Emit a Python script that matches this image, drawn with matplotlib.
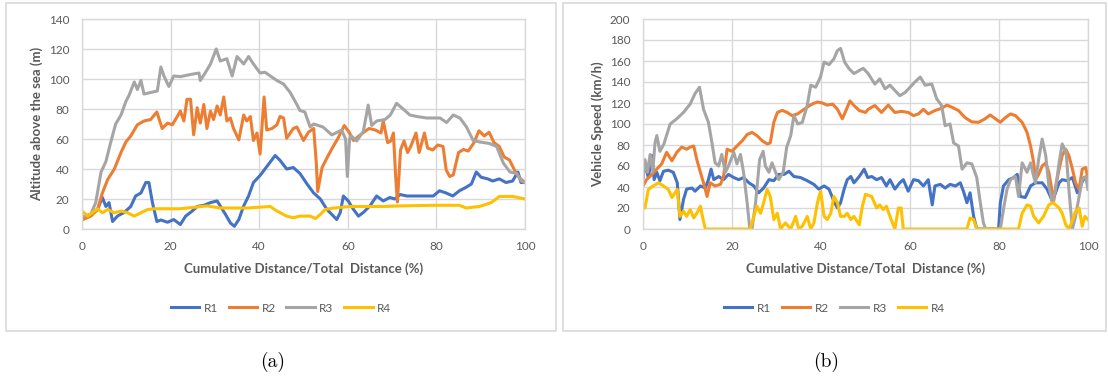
import matplotlib.pyplot as plt
from matplotlib.patches import Rectangle

# colours of the four routes
colors = ['#4472C4', '#ED7D31', '#A5A5A5', '#FFC000']
names = ['R1', 'R2', 'R3', 'R4']

# ---- (a) altitude above sea level along the route ----
alt_x_r1 = [0, 2, 3.5, 4.6, 5.4, 6.1, 6.9, 8, 9.5, 11, 12.1, 13.3, 14.4, 15.1, 15.9, 16.9, 17.8, 19.3,
            20.7, 22.2, 23.4, 24.9, 26, 27.5, 29, 30.5, 31.2, 32.4, 33.5, 34.4, 35.4, 36.5, 37.6, 38.7,
            40.2, 41.3, 42.5, 43.6, 44.7, 46.2, 47.7, 49.2, 50.8, 52.3, 53.8, 55.3, 56.4, 57.5, 58.3,
            59, 60.1, 61.3, 62.4, 63.5, 65, 66.5, 68, 69.5, 70.6, 71.8, 73.3, 76.3, 79.3, 80.7, 82.2,
            83.7, 85.2, 86.7, 87.9, 89, 90.1, 91.6, 92.7, 94.2, 95.7, 97.2, 98.4, 99.1, 100]
alt_r1 = [7.5, 9.7, 13, 21, 15, 17.6, 5, 8.6, 11, 15, 22, 24, 31, 31, 17.6, 5, 6, 4.5,
          6.3, 3, 8.6, 12, 15, 15.8, 17.6, 18.7, 15.4, 9.7, 4, 1.8, 6.3, 15.4, 22, 31,
          35.7, 40, 44.7, 49, 45.8, 40, 41, 37, 30, 24, 20, 13, 9.7, 6.3, 11,
          22, 18.7, 13, 8.6, 11, 15.4, 22, 18.7, 21, 20, 23, 22, 22, 22, 25.5, 24,
          22, 25.5, 27.8, 30, 38, 34.5, 33.4, 32, 33.4, 31, 32, 38, 31, 31]

alt_x_r2 = [0, 2, 3.5, 4.6, 5.8, 7.3, 8.8, 9.9, 11, 12.5, 14, 15.5, 16.9, 18.1, 19.3, 20.4, 21.5, 22.2,
            23, 23.7, 24.5, 25.2, 26, 26.7, 27.5, 28.2, 29, 29.7, 30.5, 31.2, 32, 32.7, 33.5, 34.2,
            35.4, 36.5, 37.2, 38, 38.7, 39.5, 40.2, 41.1, 41.7, 42.9, 44, 44.7, 45.5, 46.2, 47.7,
            48.5, 50, 51.1, 52.3, 52.9, 53.2, 54.2, 55.4, 56.5, 57.7, 59.2, 60.3, 61.3, 62.5, 63.6,
            64.8, 66.2, 67.5, 68, 69, 69.7, 70.3, 70.8, 71.2, 71.9, 72.7, 73.5, 74.2, 75.4, 76.1,
            77.3, 78, 79.2, 80.3, 81.5, 82.2, 83, 83.8, 85, 86.1, 87.2, 88.5, 89.6, 90.8, 91.9, 93,
            94.2, 95.3, 96.5, 97.6, 98.8, 100]
alt_r2 = [6, 8.6, 13, 24, 33, 40, 51, 58, 62, 69.5, 72, 73, 78, 67, 70.6, 69.5, 75, 78.6,
          72, 86.5, 86.5, 62.8, 80.8, 70.6, 83, 67, 78.6, 73, 82, 76, 88, 72, 74, 67,
          59.4, 76, 72, 75, 59, 64, 50, 88, 66, 67, 69.5, 75, 74, 60.5, 67,
          68, 59, 64.5, 67, 43.6, 25, 41, 48, 54, 60, 69, 64.5, 59, 62, 64.5,
          67, 66, 64, 72, 57.6, 58.7, 64, 35, 18, 52.7, 58.7, 51, 55, 64, 51,
          64, 54, 52.7, 56, 55, 39.5, 35, 36, 51, 53, 52, 57.6, 65.5, 62, 64.5, 57.6,
          55, 48, 46, 39.5, 34, 31]

alt_x_r3 = [0, 2, 3.1, 4.3, 5.4, 6.5, 7.6, 8.8, 9.9, 10.6, 11.8, 12.5, 13.3, 14, 15.5, 17, 17.8, 18.5,
            19.6, 20.7, 22.2, 24.5, 26.4, 26.7, 27.9, 29, 30.3, 31.2, 32.7, 33.9, 35, 36.5, 37.6,
            38.7, 40.2, 41.3, 42.5, 44, 45.5, 47, 48.5, 49.2, 50.3, 51.5, 52.3, 54.4, 56.4, 58.6,
            59.5, 59.9, 60.4, 60.8, 62, 63.5, 64.6, 65.4, 66.5, 68.4, 69.6, 71, 72.5, 74, 75.6,
            77.8, 80.8, 82.3, 83.8, 85.3, 86.8, 88.3, 89.8, 92, 93.6, 95.1, 96.6, 98.1, 99.2, 100]
alt_r3 = [8, 10, 17.6, 38, 45, 58, 70, 76, 85, 89, 98, 93, 99, 90, 91, 92, 108, 102,
          95, 102, 101.6, 103, 104, 99, 104.5, 110, 120, 112, 113.5, 102, 115, 110, 115,
          110, 104, 104.5, 102, 99, 96.6, 91, 83, 79, 78, 68, 70, 68, 62.7, 66,
          60, 35, 60, 62, 58.7, 65, 82.6, 69, 72, 73, 76, 83.8, 80, 76, 75,
          74, 74, 71, 76, 74, 68, 59, 58, 57, 55, 44, 38, 37, 32, 31]

alt_x_r4 = [0, 1.3, 2.8, 3.5, 4.6, 5.8, 7.3, 8.8, 10.3, 11.8, 13.3, 14.8, 16.3, 22.2, 28.2, 31.2, 37.2,
            42.5, 44, 46.2, 47.7, 49.2, 51.5, 52.7, 53.8, 54.9, 56.8, 60.5, 68, 71.8, 79.3, 85.2,
            86.7, 89.7, 92.4, 94.2, 97.2, 100]
alt_r4 = [12, 8.6, 12, 13.5, 10.8, 13, 10.8, 12, 10.8, 8.6, 10.8, 13, 13.5, 13.5, 15.4, 14, 14,
          15, 12, 8.6, 7.5, 8.6, 8.6, 7, 9.7, 13, 14, 15, 15, 15.4, 15.8, 15.8,
          14, 15, 17.6, 21.7, 21.7, 20]

# ---- (b) vehicle speed along the route ----
spd_x_r1 = [0, 0.45, 1.2, 2, 2.5, 3.1, 3.8, 4.6, 5.7, 6.8, 7.7, 8.3, 9.1, 9.8, 11, 11.7, 12.9, 14,
            14.7, 15.3, 15.9, 17, 18.1, 19.2, 20.4, 21.5, 22.6, 23.8, 24.9, 26, 27.1, 28.3, 29.4,
            30.5, 31.7, 32.8, 33.9, 35.4, 36.9, 38.4, 39.5, 40.7, 41.8, 42.9, 43.7, 44.4, 45.2,
            45.9, 46.7, 47.4, 48.6, 49.7, 50.5, 51.4, 52.5, 53.6, 54.7, 55.5, 56.6, 57.7, 58.5,
            59.6, 60.8, 61.9, 63, 64.1, 65, 65.6, 66.8, 67.9, 69, 70.2, 71.3, 72, 72.8, 73.5,
            74.3, 75, 79.9, 80.3, 81, 82.2, 83.3, 84.1, 84.8, 85.9, 87.1, 88.2, 89.7, 90.8, 92,
            92.7, 93.5, 94.2, 95.3, 96.5, 97.6, 98.3, 99.1, 100]
spd_r1 = [50, 62, 49, 70, 47, 54, 46, 55, 56, 54, 44, 9, 28, 38, 39, 36, 41, 39,
          47, 57, 47, 50, 47, 52, 49, 47, 49, 44, 41, 34.5, 39, 47, 46,
          52, 52, 55, 50, 49, 46, 42.5, 38, 41, 38, 26.5, 20, 25, 38,
          47, 50, 44, 50, 57, 49, 50, 47, 49, 41, 47, 38, 44, 47,
          36, 47, 46, 41, 47, 23, 41, 42.5, 39, 42.5, 41, 44, 36, 25, 34.5,
          12, 0, 0, 25, 41, 47, 49, 52, 31, 30, 41, 44, 44, 38, 26.5,
          34.5, 44, 47, 46, 49, 34.5, 41, 49, 44]

spd_x_r2 = [0, 0.8, 2, 3.1, 4.2, 5.3, 6.5, 7.6, 8.7, 9.8, 10.6, 11.4, 12.1, 12.9, 13.6, 14.4, 15.1,
            16.2, 17.4, 18.1, 18.9, 20, 21.1, 22.3, 23.4, 24.5, 25.6, 26.8, 27.9, 28.6, 29.4, 30.2,
            31.3, 32.4, 33.5, 34.7, 35.8, 36.9, 38, 39.2, 40.3, 41.4, 42.6, 43.7, 44.8, 45.6, 46.5,
            47.4, 48.6, 50, 50.6, 52.1, 53.6, 55.1, 56.6, 58.1, 59.6, 60.8, 61.9, 63, 64.1, 65.6,
            67.1, 68.3, 69.4, 70.9, 72.4, 73.9, 75.4, 76.9, 78, 79.2, 80.3, 81.4, 82.6, 83.7, 85.2,
            86.3, 87.1, 87.8, 88.2, 88.9, 89.7, 90.5, 91.2, 92.3, 92.9, 93.5, 94.2, 95, 95.7, 96.5,
            97.2, 98, 98.7, 99.5, 100]
spd_r2 = [41, 47, 52, 57, 62, 73, 65, 73, 78, 76, 78, 79, 66, 54, 44, 31, 44,
          41, 42.5, 50, 76, 74, 79, 84, 90, 92, 89, 84, 81, 82, 101.6, 111,
          113, 111, 108, 109.6, 112.8, 116, 119, 121, 120, 118, 119, 114, 105, 112.8, 122,
          117.6, 112.8, 111, 114, 117.6, 111, 118, 111, 112, 111, 108, 109.6, 114, 109.6, 112.8,
          115, 118, 116, 112.8, 106, 102, 101.6, 105, 108.6, 105, 101.6, 106, 109.6, 108, 101.6,
          92, 79, 63, 47, 52, 60, 63, 54, 27, 44, 57, 70, 76, 70, 57,
          44, 37.7, 57, 58.5, 47]

spd_x_r3 = [0, 0.45, 1, 1.6, 2.2, 2.7, 3.1, 3.8, 4.7, 6.1, 7.6, 9.1, 10.6, 11.7, 12.7, 13.6, 14.7,
            15.5, 16.2, 17, 17.7, 18.5, 19.2, 20.4, 21.1, 21.9, 22.6, 23.4, 24, 24.5, 25.3, 26.2,
            27, 27.5, 28.3, 29, 29.8, 30.5, 31.5, 32.3, 33.2, 33.9, 34.8, 35.8, 36.9, 37.7, 38.8,
            39.9, 40.7, 41.8, 42.9, 43.7, 44.4, 45.3, 46.3, 47.4, 48.6, 49.5, 50.6, 52.1, 53.2,
            54.4, 55.5, 56.6, 57.7, 58.9, 60, 61.1, 62.3, 63.4, 64.9, 66, 67.1, 67.9, 69, 69.8,
            70.9, 71.7, 72.8, 73.9, 75, 75.8, 76.5, 77, 80.3, 81, 81.8, 82.6, 83.7, 84.4, 85.2,
            86.3, 87.1, 87.8, 88.2, 88.9, 89.7, 90.5, 91.2, 92, 92.7, 93.5, 94.2, 95.1, 95.7,
            96.5, 97.2, 98, 98.7, 99.5, 100]
spd_r3 = [47, 66, 54, 71, 55, 82, 89, 74, 81, 100, 105, 111, 119, 129, 135, 114, 101.6,
          82, 63, 60, 71, 54, 60, 73, 62, 71, 54, 25, 0, 0, 25, 66,
          74, 60, 54, 63, 54, 47, 54, 78, 89, 108, 100, 101.6, 117.6, 137, 135,
          145, 159, 156.5, 162, 170, 172, 159, 152.7, 148, 151, 153, 148, 138, 143,
          133.5, 137, 132, 127, 130, 135, 140, 144.7, 137, 138, 124, 117.6, 98.4, 100, 82,
          79, 57, 63, 62, 49, 25, 5.8, 0, 0, 18.5, 37.7, 47, 50, 31, 63,
          54, 63, 50, 44, 66, 85.6, 70, 41, 25, 37.7, 63, 81, 73, 37.7,
          0, 12, 31, 47, 50, 37.7]

spd_x_r4 = [0, 0.45, 1.2, 2.3, 3.5, 4.6, 5.7, 6.5, 7.2, 7.7, 8.3, 9.1, 9.8, 10.6, 11.4, 12.1, 12.9,
            13.5, 14, 24.1, 24.9, 25.6, 26.4, 27.1, 27.9, 28.6, 29.4, 30.2, 30.9, 32, 33.2, 34.3,
            35, 35.8, 36.9, 37.7, 38.4, 39.2, 39.9, 40.7, 41.4, 42.2, 42.9, 43.7, 44.4, 45.2, 45.9,
            46.7, 47.4, 48.6, 49.3, 50, 51.4, 52.5, 53.2, 54, 54.7, 55.5, 56.6, 57.4, 58, 58.5,
            72.8, 73.5, 74.3, 75, 84.4, 85.2, 86.3, 87.1, 87.8, 88.9, 90, 91.2, 92.2, 93.5, 94.2,
            95, 95.7, 96.3, 97.2, 98, 98.7, 99.3, 100]
spd_r4 = [21.7, 20, 37.7, 41, 44, 41, 37.7, 30, 34.5, 37.7, 12, 17, 12, 18.5, 10.5, 15, 21.7,
          9, 0, 0, 12, 21.7, 15, 25, 37.7, 31, 9, 15, 0, 5.8, 0, 12,
          0, 2.6, 12, 0, 5.8, 25, 36, 12, 9, 15, 31, 25, 12, 12, 15,
          9, 12, 4, 21.7, 33, 31, 20, 23, 18.5, 21.7, 12, 0, 20, 20, 0,
          0, 10.5, 9, 0, 0, 15, 23, 21.7, 12, 5.8, 12, 23, 25, 20, 15,
          4, 0, 5.8, 17, 20, 2.6, 12, 9]

text_color = '#595959'
grid_color = '#D9D9D9'
W, H = 1108, 378

plt.rcParams['font.family'] = ['Lato', 'DejaVu Sans']


def fx(px):
    return px / W


def fy(py):
    return 1 - py / H


def draw_panel(fig, box, plot, series, ymax, ystep, ylabel, ylabel_x, caption):
    # chart frame
    x0, y0, x1, y1 = box
    fig.patches.append(Rectangle((fx(x0), fy(y1)), fx(x1) - fx(x0), fy(y0) - fy(y1),
                                 transform=fig.transFigure, fill=False,
                                 edgecolor=grid_color, linewidth=1.2))
    l, t, r, b = plot
    ax = fig.add_axes([fx(l), fy(b), fx(r) - fx(l), fy(t) - fy(b)])
    for (xs, ys), c, n in zip(series, colors, names):
        ax.plot(xs, ys, color=c, linewidth=2.2, label=n, solid_joinstyle='round')
    ax.set_xlim(0, 100)
    ax.set_ylim(0, ymax)
    ax.set_xticks(range(0, 101, 20))
    ax.set_yticks(range(0, ymax + 1, ystep))
    ax.grid(True, color=grid_color, linewidth=1.0)
    ax.set_axisbelow(True)
    for s in ax.spines.values():
        s.set_color(grid_color)
        s.set_linewidth(1.0)
    ax.tick_params(length=0, labelsize=8.5, labelcolor=text_color, pad=9)

    fig.text(fx((l + r) / 2), fy(269), 'Cumulative Distance/Total  Distance (%)',
             ha='center', va='center', fontsize=9.5, fontweight='bold', color=text_color)
    fig.text(fx(ylabel_x), fy((t + b) / 2), ylabel, rotation=90, ha='center', va='center',
             fontsize=9.5, fontweight='bold', color=text_color)
    ax.legend(loc='center', bbox_to_anchor=(fx((x0 + x1) / 2), fy(308)),
              bbox_transform=fig.transFigure, ncol=4, frameon=False, fontsize=8.5,
              handlelength=2.4, handletextpad=0.4, columnspacing=0.9, labelcolor=text_color)
    fig.text(fx((x0 + x1) / 2 - 8), fy(362), caption, ha='center', va='center',
             fontsize=14, family='cmr10')
    return ax


fig = plt.figure(figsize=(W / 100, H / 100), dpi=100)

draw_panel(fig, (6, 3, 556, 331), (82, 19, 525, 229),
           [(alt_x_r1, alt_r1), (alt_x_r2, alt_r2), (alt_x_r3, alt_r3), (alt_x_r4, alt_r4)],
           140, 20, 'Altitude above the sea (m)', 37, '(a)')
draw_panel(fig, (563, 3, 1106, 331), (643, 19, 1088, 229),
           [(spd_x_r1, spd_r1), (spd_x_r2, spd_r2), (spd_x_r3, spd_r3), (spd_x_r4, spd_r4)],
           200, 20, 'Vehicle Speed (km/h)', 598, '(b)')

fig.savefig('out.png', dpi=100)
